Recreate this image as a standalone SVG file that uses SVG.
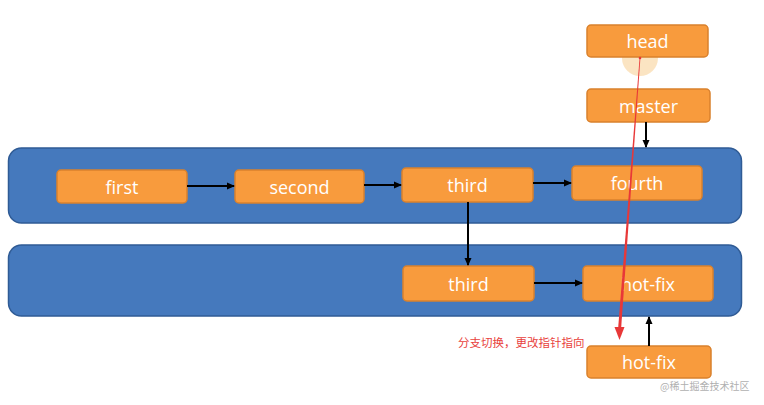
<svg xmlns="http://www.w3.org/2000/svg" width="764" height="405" viewBox="0 0 764 405">
<style>
.lane{fill:#4579bd;stroke:#2f5b95;stroke-width:1.5}
.node rect{fill:#f89b3d;stroke:#d9812c;stroke-width:1.5}
.node text{fill:#fff;font-family:"Open Sans","Liberation Sans",sans-serif;font-size:18px;text-anchor:middle;dominant-baseline:central}
.conn line{stroke:#000;stroke-width:2;marker-end:url(#ah)}
</style>
<defs>
<marker id="ah" markerWidth="8" markerHeight="8" refX="7" refY="4" orient="auto" markerUnits="userSpaceOnUse"><path d="M0,0.5 L8,4 L0,7.5 Z" fill="#000"/></marker>
</defs>
<rect width="764" height="405" fill="#fff"/>
<rect class="lane" x="8.5" y="148" width="733" height="75" rx="13"/>
<rect class="lane" x="8.5" y="245" width="733" height="71" rx="13"/>
<circle cx="640" cy="58" r="18" fill="#f9d9a8" opacity="0.7"/>
<g id="head" class="node"><rect x="587" y="25" width="121" height="32" rx="4"/><text x="647.5" y="41">head</text></g>
<g id="master" class="node"><rect x="587" y="89" width="123" height="33" rx="4"/><text x="648.5" y="105.5">master</text></g>
<g id="first" class="node"><rect x="57" y="170" width="130" height="33" rx="4"/><text x="122" y="186.5">first</text></g>
<g id="second" class="node"><rect x="235" y="170" width="129" height="33" rx="4"/><text x="299.5" y="186.5">second</text></g>
<g id="third" class="node"><rect x="402" y="168" width="131" height="34" rx="4"/><text x="467.5" y="185">third</text></g>
<g id="fourth" class="node"><rect x="572" y="166" width="130" height="34" rx="4"/><text x="637" y="183">fourth</text></g>
<g id="third2" class="node"><rect x="403" y="266" width="131" height="35" rx="4"/><text x="468.5" y="283.5">third</text></g>
<g id="hotfix" class="node"><rect x="583" y="266" width="130" height="35" rx="4"/><text x="648" y="283.5">hot-fix</text></g>
<g id="hotfix2" class="node"><rect x="587" y="346" width="124" height="32" rx="4"/><text x="649" y="362">hot-fix</text></g>
<g id="connectors" class="conn">
<line x1="187" y1="186" x2="234" y2="186"/>
<line x1="364" y1="185" x2="401" y2="185"/>
<line x1="533" y1="183" x2="571" y2="183"/>
<line x1="646" y1="122" x2="646" y2="147"/>
<line x1="468" y1="202" x2="468" y2="265"/>
<line x1="534" y1="283" x2="582" y2="283"/>
<line x1="649" y1="346" x2="649" y2="317"/>
</g>
<g id="redarrow">
<polygon points="639.6,58 640.4,58 621,330 618,330" fill="#e83838"/>
<path d="M614.5,327 L624.5,327 L619.5,340 Z" fill="#e83838"/>
<circle cx="640" cy="58" r="1.3" fill="#e83838"/>
</g>
<text x="458" y="347" font-family="'Noto Sans CJK SC',sans-serif" font-size="11.5" fill="#e8413c">分支切换，更改指针指向</text>
<text x="660" y="390" font-family="'Noto Sans CJK SC',sans-serif" font-size="10" fill="#b0b0b0">@稀土掘金技术社区</text>
</svg>
